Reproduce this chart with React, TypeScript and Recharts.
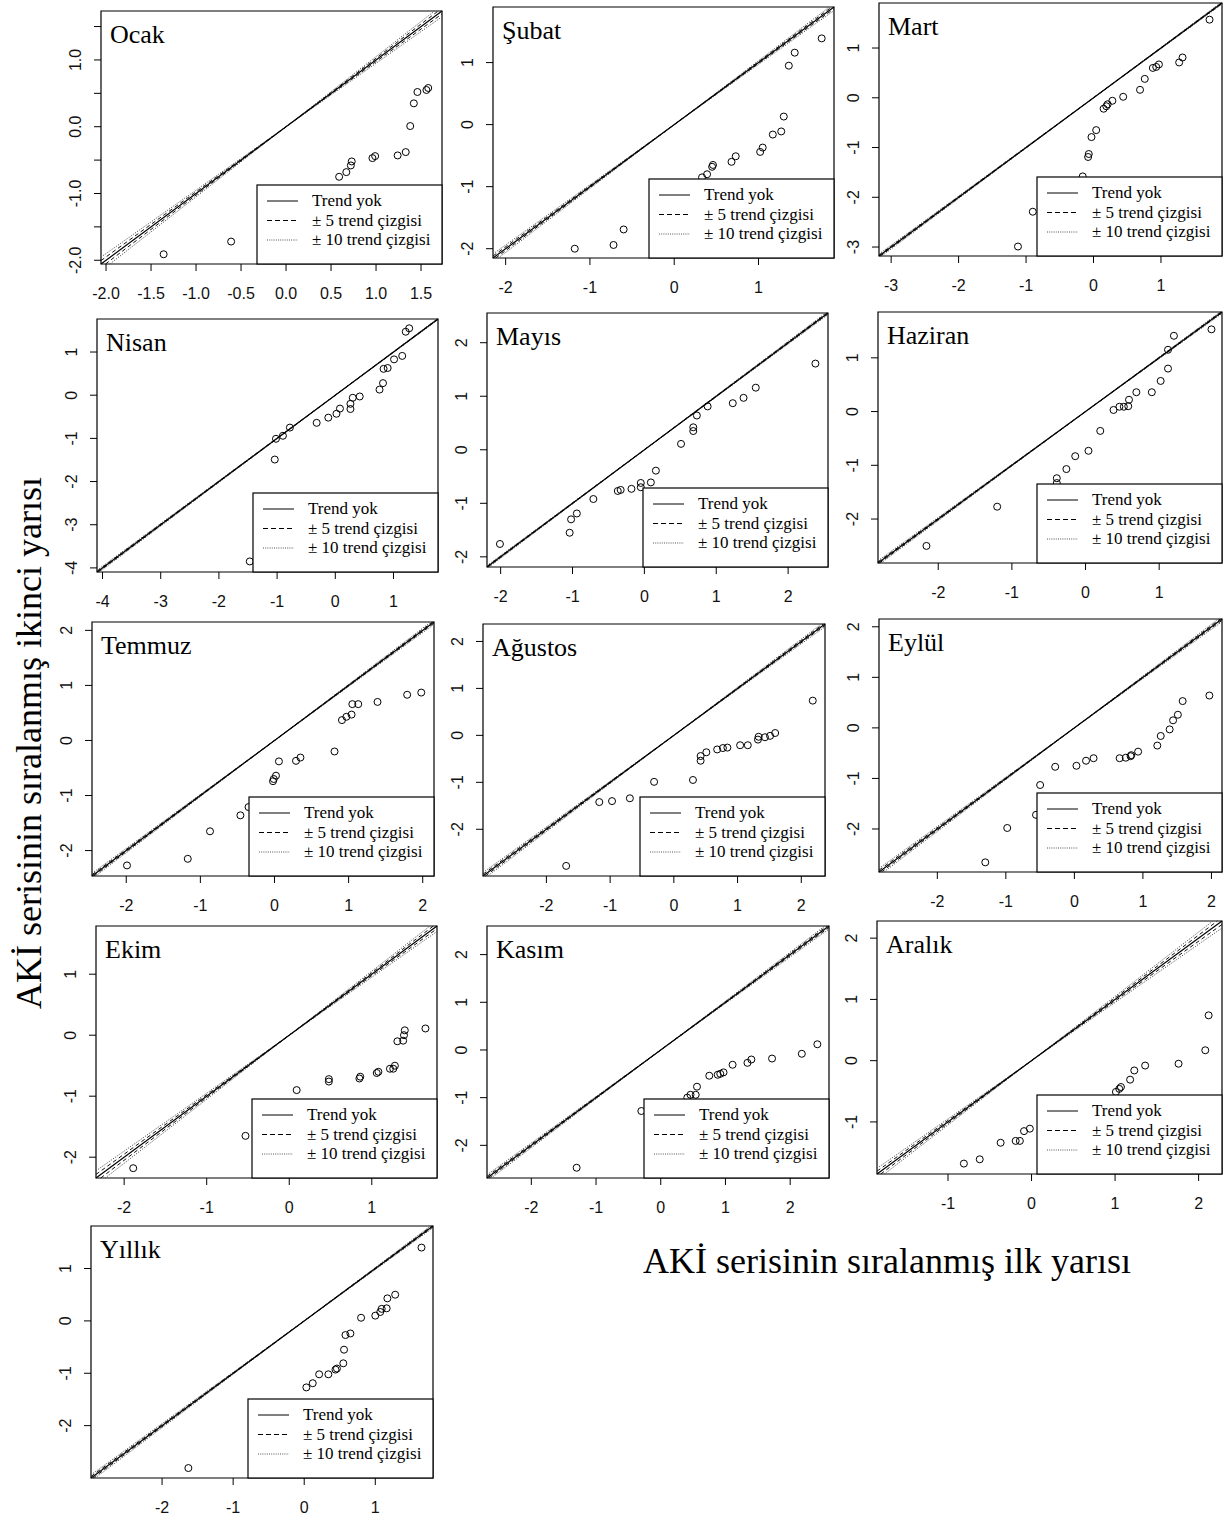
import React from 'react';
import { ScatterChart, Scatter, XAxis, YAxis, ReferenceLine, ReferenceArea } from 'recharts';

// ---------- data: ordered first half (x) vs ordered second half (y) ----------
const panelNames = ['Ocak', 'Şubat', 'Mart', 'Nisan', 'Mayıs', 'Haziran', 'Temmuz', 'Ağustos', 'Eylül', 'Ekim', 'Kasım', 'Aralık', 'Yıllık'];

const ocakFirst = [-1.36, -0.61, 0.59, 0.67, 0.72, 0.73, 0.96, 0.99, 1.24, 1.33, 1.38, 1.42, 1.46, 1.56, 1.58];
const ocakSecond = [-1.91, -1.72, -0.75, -0.68, -0.58, -0.52, -0.47, -0.44, -0.43, -0.38, 0.01, 0.35, 0.52, 0.55, 0.58];

const subatFirst = [-1.18, -0.72, -0.6, 0.33, 0.39, 0.45, 0.46, 0.68, 0.73, 1.02, 1.05, 1.17, 1.27, 1.3, 1.36, 1.43, 1.75];
const subatSecond = [-2.0, -1.94, -1.69, -0.85, -0.8, -0.68, -0.65, -0.6, -0.51, -0.44, -0.37, -0.16, -0.11, 0.13, 0.95, 1.16, 1.39];

const martFirst = [-1.12, -0.9, -0.16, -0.08, -0.07, -0.03, 0.04, 0.15, 0.19, 0.21, 0.28, 0.44, 0.69, 0.76, 0.88, 0.93, 0.97, 1.27, 1.32, 1.72];
const martSecond = [-2.99, -2.29, -1.58, -1.19, -1.13, -0.79, -0.65, -0.22, -0.17, -0.13, -0.06, 0.02, 0.16, 0.38, 0.6, 0.62, 0.67, 0.71, 0.81, 1.57];

const nisanFirst = [-1.47, -1.04, -1.02, -0.9, -0.78, -0.32, -0.12, 0.02, 0.08, 0.26, 0.26, 0.3, 0.42, 0.76, 0.82, 0.83, 0.9, 1.01, 1.15, 1.21, 1.27];
const nisanSecond = [-3.85, -1.49, -1.01, -0.94, -0.75, -0.64, -0.52, -0.43, -0.31, -0.32, -0.2, -0.06, -0.03, 0.13, 0.28, 0.61, 0.63, 0.83, 0.91, 1.47, 1.55];

const mayisFirst = [-2.01, -1.04, -1.02, -0.94, -0.71, -0.37, -0.33, -0.18, -0.05, -0.05, 0.09, 0.16, 0.51, 0.68, 0.68, 0.73, 0.88, 1.23, 1.38, 1.55, 2.38];
const mayisSecond = [-1.76, -1.55, -1.3, -1.19, -0.92, -0.77, -0.75, -0.73, -0.7, -0.62, -0.61, -0.39, 0.11, 0.35, 0.42, 0.64, 0.81, 0.87, 0.97, 1.16, 1.61];

const haziranFirst = [-2.16, -1.2, -0.39, -0.39, -0.26, -0.14, 0.04, 0.2, 0.38, 0.46, 0.52, 0.58, 0.59, 0.69, 0.9, 1.02, 1.12, 1.12, 1.2, 1.71];
const haziranSecond = [-2.5, -1.77, -1.24, -1.33, -1.07, -0.83, -0.73, -0.36, 0.03, 0.09, 0.09, 0.1, 0.22, 0.36, 0.36, 0.57, 0.8, 1.15, 1.41, 1.53];

const temmuzFirst = [-1.99, -1.17, -0.87, -0.46, -0.35, -0.02, -0.01, 0.02, 0.06, 0.29, 0.35, 0.81, 0.91, 0.97, 1.04, 1.05, 1.13, 1.39, 1.79, 1.98];
const temmuzSecond = [-2.27, -2.15, -1.65, -1.36, -1.21, -0.74, -0.7, -0.64, -0.38, -0.37, -0.31, -0.2, 0.37, 0.43, 0.47, 0.66, 0.66, 0.7, 0.83, 0.87];

const agustosFirst = [-1.69, -1.17, -0.97, -0.69, -0.31, 0.3, 0.42, 0.42, 0.51, 0.68, 0.77, 0.84, 1.04, 1.16, 1.32, 1.33, 1.43, 1.51, 1.59, 2.18];
const agustosSecond = [-2.78, -1.42, -1.4, -1.34, -0.99, -0.95, -0.54, -0.44, -0.36, -0.3, -0.27, -0.26, -0.21, -0.21, -0.09, -0.03, -0.04, -0.01, 0.05, 0.74];

const eylulFirst = [-1.3, -0.98, -0.56, -0.5, -0.28, 0.03, 0.17, 0.28, 0.66, 0.75, 0.82, 0.83, 0.93, 1.21, 1.26, 1.39, 1.44, 1.51, 1.58, 1.97];
const eylulSecond = [-2.66, -1.98, -1.72, -1.13, -0.77, -0.75, -0.65, -0.6, -0.6, -0.59, -0.56, -0.54, -0.47, -0.35, -0.16, -0.03, 0.15, 0.26, 0.53, 0.64];

const ekimFirst = [-1.89, -0.53, 0.09, 0.48, 0.48, 0.85, 0.86, 1.06, 1.08, 1.22, 1.26, 1.28, 1.31, 1.38, 1.39, 1.4, 1.65];
const ekimSecond = [-2.18, -1.65, -0.9, -0.76, -0.72, -0.71, -0.68, -0.62, -0.6, -0.55, -0.55, -0.5, -0.1, -0.09, 0.0, 0.08, 0.11];

const kasimFirst = [-1.3, -0.3, 0.41, 0.46, 0.54, 0.56, 0.75, 0.88, 0.92, 0.97, 1.11, 1.34, 1.4, 1.72, 2.18, 2.42];
const kasimSecond = [-2.47, -1.28, -1.0, -0.94, -0.94, -0.77, -0.54, -0.52, -0.5, -0.47, -0.31, -0.27, -0.2, -0.18, -0.08, 0.12];

const aralikFirst = [-0.81, -0.62, -0.37, -0.19, -0.14, -0.09, -0.02, 1.01, 1.05, 1.07, 1.18, 1.23, 1.36, 1.76, 2.08, 2.12];
const aralikSecond = [-1.68, -1.61, -1.34, -1.31, -1.31, -1.15, -1.11, -0.51, -0.46, -0.43, -0.31, -0.16, -0.08, -0.05, 0.17, 0.74];

const yillikFirst = [-1.63, 0.03, 0.12, 0.21, 0.34, 0.44, 0.46, 0.55, 0.56, 0.58, 0.65, 0.8, 1.0, 1.07, 1.09, 1.16, 1.17, 1.28, 1.65];
const yillikSecond = [-2.81, -1.27, -1.19, -1.02, -1.02, -0.93, -0.91, -0.81, -0.55, -0.27, -0.24, 0.06, 0.1, 0.17, 0.23, 0.24, 0.43, 0.5, 1.4];

const panelFirst = [ocakFirst, subatFirst, martFirst, nisanFirst, mayisFirst, haziranFirst, temmuzFirst, agustosFirst, eylulFirst, ekimFirst, kasimFirst, aralikFirst, yillikFirst];
const panelSecond = [ocakSecond, subatSecond, martSecond, nisanSecond, mayisSecond, haziranSecond, temmuzSecond, agustosSecond, eylulSecond, ekimSecond, kasimSecond, aralikSecond, yillikSecond];

// axis limits (same for both axes) and tick values
const panelLimits: [number, number][] = [
  [-2.056, 1.733], [-2.15, 1.896], [-3.18, 1.905], [-4.095, 1.765], [-2.19, 2.555], [-2.818, 1.853],
  [-2.462, 2.152], [-2.995, 2.372], [-2.851, 2.154], [-2.341, 1.79], [-2.685, 2.6], [-1.85, 2.28], [-3.0, 1.812],
];
const ocakTicks = [-2, -1.5, -1, -0.5, 0, 0.5, 1, 1.5];
const panelTicks: number[][] = [
  ocakTicks, [-2, -1, 0, 1], [-3, -2, -1, 0, 1], [-4, -3, -2, -1, 0, 1], [-2, -1, 0, 1, 2], [-2, -1, 0, 1],
  [-2, -1, 0, 1, 2], [-2, -1, 0, 1, 2], [-2, -1, 0, 1, 2], [-2, -1, 0, 1], [-2, -1, 0, 1, 2], [-1, 0, 1, 2], [-2, -1, 0, 1],
];
const panelDecimals = [1, 0, 0, 0, 0, 0, 0, 0, 0, 0, 0, 0, 0];
// relative spread of the ±5 / ±10 trend lines
const panelBand = [1, 0.6, 0.25, 0.2, 0.25, 0.3, 0.4, 0.5, 0.5, 1, 0.5, 1, 0.4];

const legendLabels = ['Trend yok', '± 5 trend çizgisi', '± 10 trend çizgisi'];
const xAxisTitle = 'AKİ serisinin sıralanmış ilk yarısı';
const yAxisTitle = 'AKİ serisinin sıralanmış ikinci yarısı';

// ---------- layout ----------
const panelBoxes: [number, number, number, number][] = [
  [101, 11, 341, 253], [493, 7, 341, 251], [879, 3, 343, 253],
  [97, 319, 341, 253], [487, 313, 341, 254], [878, 312, 344, 251],
  [92, 622, 342, 254], [483, 624, 342, 252], [879, 619, 343, 253],
  [96, 926, 341, 252], [487, 926, 342, 252], [877, 921, 345, 253],
  [91, 1226, 342, 252],
];

const SERIF = "'Liberation Serif', 'Times New Roman', serif";
const SANS = "'Liberation Sans', Arial, sans-serif";
const AXIS_W = 44;
const AXIS_H = 44;
const PAD = 4;
const LEG_W = 185;
const LEG_H = 79;

const fmt = (v: number, d: number) => v.toFixed(d);

const Circle = (props: any) => {
  const { cx, cy } = props;
  if (cx == null || cy == null) return null;
  return <circle cx={cx} cy={cy} r={3.5} fill="none" stroke="#000" strokeWidth={1} />;
};

function Panel({ i }: { i: number }) {
  const [bx, by, bw, bh] = panelBoxes[i];
  const [lo, hi] = panelLimits[i];
  const ticks = panelTicks[i];
  const dec = panelDecimals[i];
  const data = panelFirst[i].map((x, j) => ({ x, y: panelSecond[i][j] }));
  const s = panelBand[i];
  const bandLines = [
    { k: 1 + 0.025 * s, dash: '4 3', color: '#111' },
    { k: 1 - 0.025 * s, dash: '4 3', color: '#111' },
    { k: 1 + 0.05 * s, dash: '1.2 1.4', color: '#555' },
    { k: 1 - 0.05 * s, dash: '1.2 1.4', color: '#555' },
  ];

  const xTick = (p: any) => (
    <text x={p.x} y={p.y + 28} textAnchor="middle" fontFamily={SANS} fontSize={16} fill="#111">
      {fmt(p.payload.value, dec)}
    </text>
  );
  const yTick = (p: any) => {
    const v = p.payload.value;
    if (Math.abs(v - Math.round(v)) > 1e-9) return <g />;
    const tx = p.x - 13;
    return (
      <text x={tx} y={p.y} transform={`rotate(-90 ${tx} ${p.y})`} textAnchor="middle" fontFamily={SANS} fontSize={16} fill="#111">
        {fmt(v, dec)}
      </text>
    );
  };

  return (
    <div style={{ position: 'absolute', left: bx - AXIS_W, top: by - PAD }}>
      <ScatterChart width={bw + AXIS_W + PAD} height={bh + PAD + AXIS_H} margin={{ top: PAD, right: PAD, bottom: 0, left: 0 }}>
        <XAxis type="number" dataKey="x" domain={[lo, hi]} allowDataOverflow ticks={ticks} interval={0} height={AXIS_H}
          axisLine={false} tickLine={{ stroke: '#000', strokeWidth: 1 }} tickSize={7} tickMargin={0} tick={xTick} />
        <YAxis type="number" dataKey="y" domain={[lo, hi]} allowDataOverflow ticks={ticks} interval={0} width={AXIS_W}
          axisLine={false} tickLine={{ stroke: '#000', strokeWidth: 1 }} tickSize={7} tickMargin={0} tick={yTick} />
        {bandLines.map((b, j) => (
          <ReferenceLine key={j} ifOverflow="visible"
            segment={[{ x: Math.max(lo, lo / b.k), y: b.k * Math.max(lo, lo / b.k) }, { x: Math.min(hi, hi / b.k), y: b.k * Math.min(hi, hi / b.k) }]}
            stroke={b.color} strokeWidth={1} strokeDasharray={b.dash} />
        ))}
        <ReferenceLine ifOverflow="visible" segment={[{ x: lo, y: lo }, { x: hi, y: hi }]} stroke="#000" strokeWidth={1.2} />
        <Scatter data={data} isAnimationActive={false} shape={Circle} />
        <ReferenceArea ifOverflow="visible" x1={lo} x2={hi} y1={lo} y2={hi} fill="none" fillOpacity={0} stroke="#000" strokeWidth={1.2} />
      </ScatterChart>
    </div>
  );
}

function Overlay() {
  return (
    <svg width={1225} height={1522} style={{ position: 'absolute', left: 0, top: 0, pointerEvents: 'none' }}>
      {panelBoxes.map(([bx, by, bw, bh], i) => {
        const lx = bx + bw - LEG_W;
        const ly = by + bh - LEG_H;
        return (
          <g key={i}>
            <text x={bx + 9} y={by + 32} fontFamily={SERIF} fontSize={26} fill="#000">{panelNames[i]}</text>
            <rect x={lx} y={ly} width={LEG_W} height={LEG_H} fill="#fff" stroke="#000" strokeWidth={1.2} />
            {legendLabels.map((t, j) => {
              const base = ly + 21 + j * 19.5;
              return (
                <g key={j}>
                  <line x1={lx + 10} x2={lx + 41} y1={base - 5} y2={base - 5}
                    stroke={j === 2 ? '#555' : '#000'} strokeWidth={1}
                    strokeDasharray={j === 0 ? undefined : j === 1 ? '5 3' : '1 1.2'} />
                  <text x={lx + 55} y={base} fontFamily={SERIF} fontSize={17} fill="#000">{t}</text>
                </g>
              );
            })}
          </g>
        );
      })}
      <text x={643} y={1273} fontFamily={SERIF} fontSize={36} fill="#000">{xAxisTitle}</text>
      <text x={41} y={743} transform="rotate(-90 41 743)" textAnchor="middle" fontFamily={SERIF} fontSize={36} fill="#000">{yAxisTitle}</text>
    </svg>
  );
}

export default function App() {
  return (
    <div style={{ position: 'absolute', left: 0, top: 0, width: 1225, height: 1522, background: '#fff', overflow: 'hidden' }}>
      {panelNames.map((_, i) => <Panel key={i} i={i} />)}
      <Overlay />
    </div>
  );
}
